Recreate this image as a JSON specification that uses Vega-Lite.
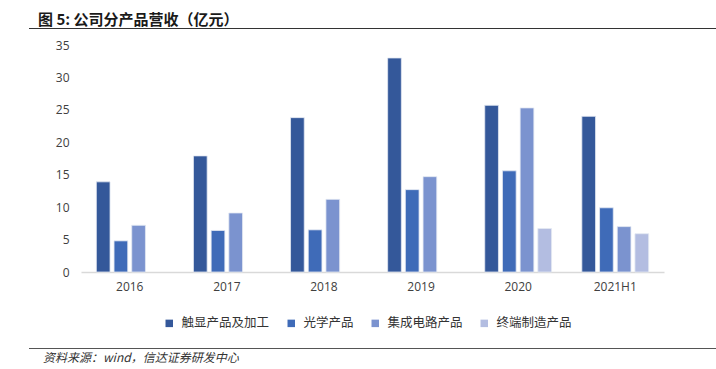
{
  "$schema": "https://vega.github.io/schema/vega-lite/v6.json",
  "background": "white",
  "padding": {"left": 29, "top": 12, "right": 0, "bottom": 0},
  "spacing": 5,
  "resolve": {"scale": {"color": "independent"}, "legend": {"color": "independent"}},
  "config": {
    "view": {"stroke": null},
    "font": "Noto Sans CJK SC",
    "title": {"font": "Noto Sans CJK SC"}
  },
  "vconcat": [
    {
      "width": 687,
      "height": 1,
      "view": {"fill": "#333333", "stroke": null},
      "title": {
        "text": "图 5:  公司分产品营收（亿元）",
        "anchor": "start",
        "frame": "group",
        "dx": 9,
        "offset": -5,
        "fontSize": 15,
        "fontWeight": "bold",
        "color": "#1a1a1a"
      },
      "data": {"values": [{}]},
      "mark": {"type": "text", "text": ""},
      "encoding": {}
    },
    {
      "spacing": 0,
      "resolve": {"scale": {"color": "independent"}, "legend": {"color": "independent"}},
      "hconcat": [
        {
          "width": 1,
          "height": 1,
          "data": {"values": [{}]},
          "mark": {"type": "text", "text": ""},
          "encoding": {}
        },
        {
          "width": 583,
          "height": 227,
          "data": {
            "values": [
              {"period": "2016", "product": "触显产品及加工", "value": 13.9},
              {"period": "2016", "product": "光学产品", "value": 4.8},
              {"period": "2016", "product": "集成电路产品", "value": 7.2},
              {"period": "2017", "product": "触显产品及加工", "value": 17.9},
              {"period": "2017", "product": "光学产品", "value": 6.4},
              {"period": "2017", "product": "集成电路产品", "value": 9.1},
              {"period": "2018", "product": "触显产品及加工", "value": 23.8},
              {"period": "2018", "product": "光学产品", "value": 6.5},
              {"period": "2018", "product": "集成电路产品", "value": 11.2},
              {"period": "2019", "product": "触显产品及加工", "value": 33.0},
              {"period": "2019", "product": "光学产品", "value": 12.7},
              {"period": "2019", "product": "集成电路产品", "value": 14.7},
              {"period": "2020", "product": "触显产品及加工", "value": 25.7},
              {"period": "2020", "product": "光学产品", "value": 15.6},
              {"period": "2020", "product": "集成电路产品", "value": 25.3},
              {"period": "2020", "product": "终端制造产品", "value": 6.7},
              {"period": "2021H1", "product": "触显产品及加工", "value": 24.0},
              {"period": "2021H1", "product": "光学产品", "value": 9.9},
              {"period": "2021H1", "product": "集成电路产品", "value": 7.0},
              {"period": "2021H1", "product": "终端制造产品", "value": 5.9}
            ]
          },
          "mark": {"type": "bar", "stroke": "#e3e8f3", "strokeWidth": 0.8},
          "encoding": {
            "x": {
              "field": "period",
              "type": "nominal",
              "sort": ["2016", "2017", "2018", "2019", "2020", "2021H1"],
              "scale": {"paddingInner": 0.312, "paddingOuter": 0.158},
              "axis": {
                "title": null,
                "labelAngle": 0,
                "ticks": false,
                "domainColor": "#d9d9d9",
                "domainWidth": 1.5,
                "labelFont": "Open Sans",
                "labelFontSize": 12,
                "labelColor": "#404040",
                "labelPadding": 9
              }
            },
            "xOffset": {
              "field": "product",
              "sort": ["触显产品及加工", "光学产品", "集成电路产品", "终端制造产品"],
              "scale": {"paddingInner": 0.226, "paddingOuter": 0}
            },
            "y": {
              "field": "value",
              "type": "quantitative",
              "scale": {"domain": [0, 35]},
              "axis": {
                "title": null,
                "values": [0, 5, 10, 15, 20, 25, 30, 35],
                "grid": false,
                "domain": false,
                "ticks": false,
                "labelFont": "Open Sans",
                "labelFontSize": 12,
                "labelColor": "#404040",
                "labelPadding": 12,
                "minExtent": 51
              }
            },
            "color": {
              "field": "product",
              "type": "nominal",
              "sort": ["触显产品及加工", "光学产品", "集成电路产品", "终端制造产品"],
              "scale": {
                "domain": ["触显产品及加工", "光学产品", "集成电路产品", "终端制造产品"],
                "range": ["#34589a", "#3f6bb8", "#7b93cf", "#b3bde1"]
              },
              "legend": {
                "title": null,
                "orient": "none",
                "direction": "horizontal",
                "legendX": 75,
                "legendY": 265,
                "padding": 7,
                "symbolType": "square",
                "symbolSize": 56,
                "symbolStrokeWidth": 0,
                "labelFont": "Noto Sans CJK SC",
                "labelFontSize": 12.5,
                "labelColor": "#333333",
                "labelOffset": 6,
                "columnPadding": 15
              }
            }
          }
        }
      ]
    },
    {
      "width": 687,
      "height": 1,
      "view": {"fill": "#555555", "stroke": null},
      "title": {
        "text": "资料来源：wind，信达证券研发中心",
        "orient": "bottom",
        "anchor": "start",
        "frame": "group",
        "dx": 14,
        "offset": -1,
        "fontSize": 12,
        "fontWeight": "normal",
        "fontStyle": "italic",
        "color": "#333333"
      },
      "data": {"values": [{}]},
      "mark": {"type": "text", "text": ""},
      "encoding": {}
    }
  ]
}
